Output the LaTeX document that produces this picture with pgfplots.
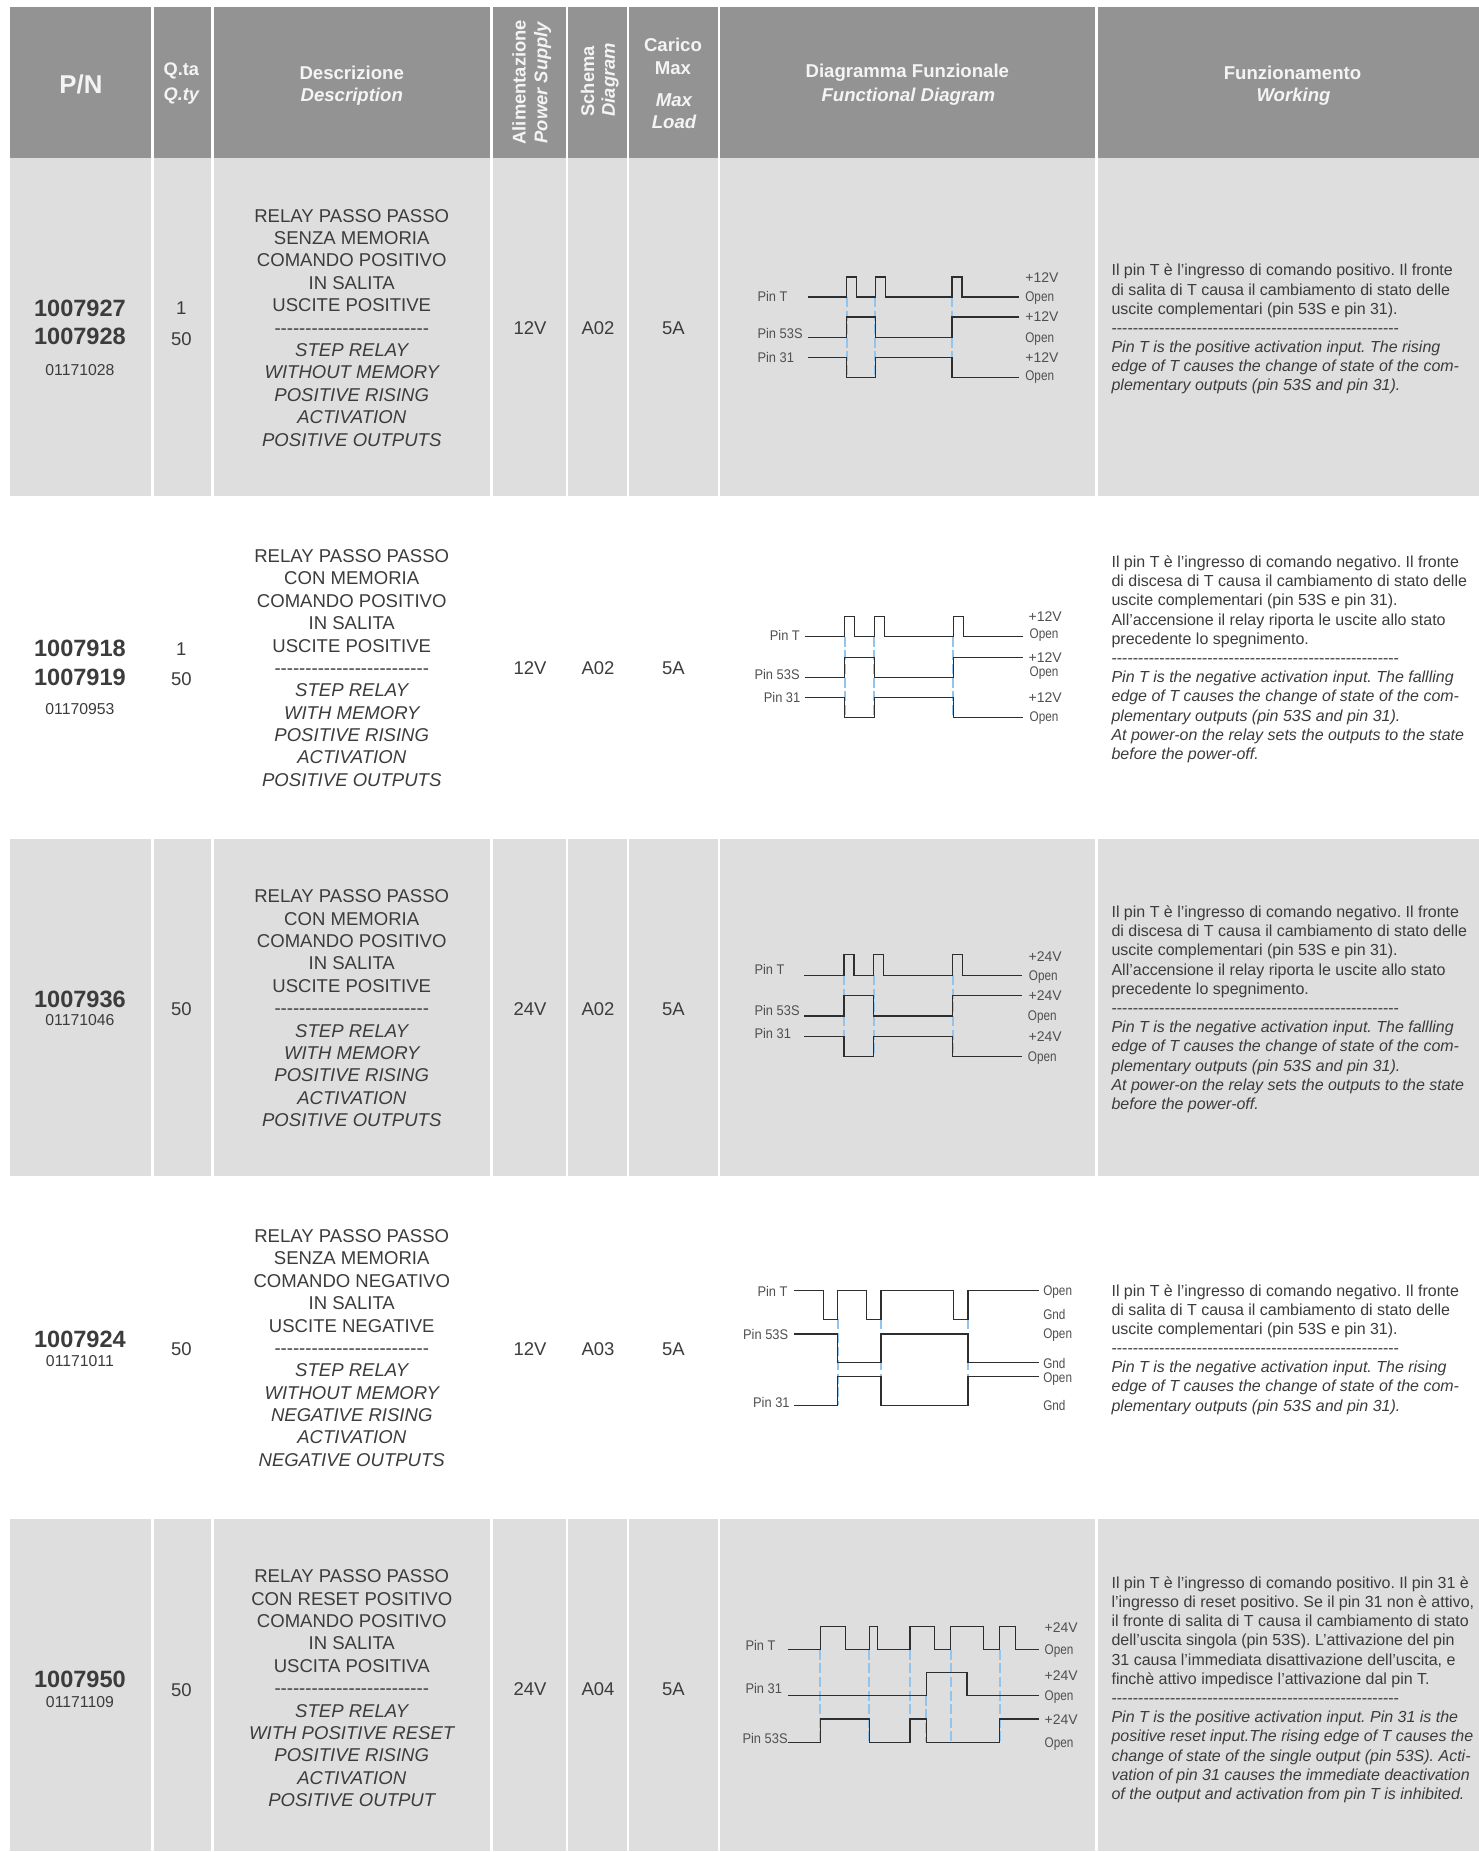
\documentclass[border=0pt]{standalone}
\usepackage{pgfplots}
\pgfplotsset{compat=1.18}
\usepackage{fontspec}
\setmainfont{Liberation Sans}[Ligatures=TeXOff]
\newfontfamily\cond{Liberation Sans}[FakeStretch=0.84,Ligatures=TeXOff]
\newfontfamily\condP{Liberation Sans}[FakeStretch=0.92,Ligatures=TeXOff]
\newfontfamily\condV{Liberation Sans}[FakeStretch=1.0,Ligatures=TeXOff]
\frenchspacing
\definecolor{hdr}{HTML}{939394}
\definecolor{rowg}{HTML}{DEDEDE}
\definecolor{ink}{HTML}{3C3C3C}
\definecolor{sigc}{HTML}{2E2E2E}
\definecolor{blu}{HTML}{92C4EE}
\definecolor{hw}{HTML}{F4F4F4}
\newcommand\fs[2]{\fontsize{#1}{#2}\selectfont}
\newcommand\dl[3]{\node[anchor=west,inner sep=0pt,yshift=-0.5pt,text=ink!90,font=\cond\fs{7}{8}] at (axis cs:#1,#2) {#3};}
\newcommand\dlp[3]{\node[anchor=west,inner sep=0pt,text=ink!90,font=\condP\fs{7}{8}] at (axis cs:#1,#2) {#3};}
\newcommand\dlv[3]{\node[anchor=west,inner sep=0pt,yshift=-0.5pt,text=ink!90,font=\condV\fs{7}{8}] at (axis cs:#1,#2) {#3};}
\newcommand\cc[3]{\node[inner sep=0pt,yshift=-0.5pt,text=ink,font=\fs{9.25}{11}] at (axis cs:#1,#2) {#3};}
\newcommand\hd[5]{\node[inner sep=0pt,text=hw,font=\fs{#4}{11}#5] at (axis cs:#1,#2) {#3};}
\newcommand\hr[4]{\node[anchor=west,rotate=90,inner sep=0pt,text=hw,font=\fs{9.2}{11}#4] at (axis cs:#1,#2) {#3};}
\newcommand\pnb[2]{\node[inner sep=0pt,yshift=-0.5pt,text=ink,font=\bfseries\fs{11.8}{14}] at (axis cs:80,#1) {#2};}
\newcommand\pns[2]{\node[inner sep=0pt,yshift=-0.5pt,text=ink,font=\fs{7.9}{9}] at (axis cs:80,#1) {#2};}
\newcommand\desc[2]{\node[inner sep=0pt,align=center,text=ink,font=\fs{9.28}{11.2}] at (axis cs:352,#1) {#2};}
\newcommand\work[2]{\node[anchor=west,inner sep=0pt,yshift=-0.7pt,align=left,text=ink,font=\fs{8}{9.6}] at (axis cs:1112,#1) {#2};}
\newcommand\dsh{-{}-{}-{}-{}-{}-{}-{}-{}-{}-{}-{}-{}-{}-{}-{}-{}-{}-{}-{}-{}-{}-{}-{}-{}-}
\newcommand\wdsh{-{}-{}-{}-{}-{}-{}-{}-{}-{}-{}-{}-{}-{}-{}-{}-{}-{}-{}-{}-{}-{}-{}-{}-{}-{}-{}-{}-{}-{}-{}-{}-{}-{}-{}-{}-{}-{}-{}-{}-{}-{}-{}-{}-{}-{}-{}-{}-{}-{}-{}-{}-{}-{}-{}}
\pgfplotsset{
  sig/.style={draw=sigc,line width=0.62pt,line join=miter,no markers},
  bl/.style={draw=blu,line width=1pt,dash pattern=on 5pt off 1.8pt,no markers},
  sep/.style={draw=white,line width=1.4pt,no markers},
}
\begin{document}
\begin{tikzpicture}
\begin{axis}[
  width=740pt,height=926pt,scale only axis,
  xmin=0,xmax=1480,ymin=0,ymax=1852,y dir=reverse,
  hide axis,clip=false]
% page ground, so that the picture keeps its white margins
\addplot[fill=white,draw=none] coordinates {(0,0)(1480,0)(1480,1852)(0,1852)} --cycle;
% table bands
\addplot[fill=hdr,draw=none] coordinates {(10,7)(1480,7)(1480,158)(10,158)} --cycle;
\addplot[fill=rowg,draw=none] coordinates {(10,158)(1480,158)(1480,496)(10,496)} --cycle;
\addplot[fill=rowg,draw=none] coordinates {(10,840)(1480,840)(1480,1176.5)(10,1176.5)} --cycle;
\addplot[fill=rowg,draw=none] coordinates {(10,1520)(1480,1520)(1480,1852)(10,1852)} --cycle;
% column separators
\addplot[sep] coordinates {(152.5,7)(152.5,1852)};
\addplot[sep] coordinates {(213,7)(213,1852)};
\addplot[sep] coordinates {(492,7)(492,1852)};
\addplot[sep] coordinates {(567.5,7)(567.5,1852)};
\addplot[sep] coordinates {(628.5,7)(628.5,1852)};
\addplot[sep] coordinates {(719.5,7)(719.5,1852)};
\addplot[sep] coordinates {(1097,7)(1097,1852)};
% ---- diagram 1
\addplot[bl] coordinates {(847.3,297.3)(847.3,377.7)};
\addplot[bl] coordinates {(876,297.3)(876,377.7)};
\addplot[bl] coordinates {(952.7,297.3)(952.7,377.7)};
\addplot[sig] coordinates {(808.7,297.3)(847.3,297.3)(847.3,277.3)(857.3,277.3)(857.3,297.3)(876,297.3)(876,277.3)(886,277.3)(886,297.3)(952.7,297.3)(952.7,277.3)(962.7,277.3)(962.7,297.3)(1020,297.3)};
\addplot[sig] coordinates {(808.7,337.7)(847.3,337.7)(847.3,317.3)(876,317.3)(876,337.7)(952.7,337.7)(952.7,317.3)(1020,317.3)};
\addplot[sig] coordinates {(808.7,357.7)(847.3,357.7)(847.3,377.7)(876,377.7)(876,357.7)(952.7,357.7)(952.7,377.7)(1020,377.7)};
% ---- diagram 2
\addplot[bl] coordinates {(845.3,637.3)(845.3,718)};
\addplot[bl] coordinates {(875,637.3)(875,718)};
\addplot[bl] coordinates {(954,637.3)(954,718)};
\addplot[sig] coordinates {(805.3,637.3)(845.3,637.3)(845.3,617.3)(855.3,617.3)(855.3,637.3)(875,637.3)(875,617.3)(885,617.3)(885,637.3)(954,637.3)(954,617.3)(964,617.3)(964,637.3)(1023.7,637.3)};
\addplot[sig] coordinates {(805.3,678)(845.3,678)(845.3,657.7)(875,657.7)(875,678)(954,678)(954,657.7)(1023.7,657.7)};
\addplot[sig] coordinates {(805.3,698)(845.3,698)(845.3,718)(875,718)(875,698)(954,698)(954,718)(1023.7,718)};
% ---- diagram 3
\addplot[bl] coordinates {(844.7,976)(844.7,1057)};
\addplot[bl] coordinates {(874.3,976)(874.3,1057)};
\addplot[bl] coordinates {(953.3,976)(953.3,1057)};
\addplot[sig] coordinates {(805,976)(844.7,976)(844.7,955.3)(854.7,955.3)(854.7,976)(874.3,976)(874.3,955.3)(884.3,955.3)(884.3,976)(953.3,976)(953.3,955.3)(963.3,955.3)(963.3,976)(1023,976)};
\addplot[sig] coordinates {(805,1016.7)(844.7,1016.7)(844.7,996.3)(874.3,996.3)(874.3,1016.7)(953.3,1016.7)(953.3,996.3)(1023,996.3)};
\addplot[sig] coordinates {(805,1037)(844.7,1037)(844.7,1057)(874.3,1057)(874.3,1037)(953.3,1037)(953.3,1057)(1023,1057)};
% ---- diagram 4
\addplot[bl] coordinates {(838.3,1320.3)(838.3,1406.3)};
\addplot[bl] coordinates {(881.7,1320.3)(881.7,1406.3)};
\addplot[bl] coordinates {(968.7,1320.3)(968.7,1406.3)};
\addplot[sig] coordinates {(794.7,1291.7)(824,1291.7)(824,1320.3)(838.3,1320.3)(838.3,1291.7)(867.3,1291.7)(867.3,1320.3)(881.7,1320.3)(881.7,1291.7)(954,1291.7)(954,1320.3)(968.7,1320.3)(968.7,1291.7)(1040,1291.7)};
\addplot[sig] coordinates {(794.7,1335)(838.3,1335)(838.3,1363.7)(881.7,1363.7)(881.7,1335)(968.7,1335)(968.7,1363.7)(1040,1363.7)};
\addplot[sig] coordinates {(794.7,1406.3)(838.3,1406.3)(838.3,1377.7)(881.7,1377.7)(881.7,1406.3)(968.7,1406.3)(968.7,1377.7)(1040,1377.7)};
% ---- diagram 5
\addplot[bl] coordinates {(821,1651)(821,1743.7)};
\addplot[bl] coordinates {(870,1651)(870,1743.7)};
\addplot[bl] coordinates {(910.7,1651)(910.7,1743.7)};
\addplot[bl] coordinates {(927,1697)(927,1743.7)};
\addplot[bl] coordinates {(951.3,1651)(951.3,1743.7)};
\addplot[bl] coordinates {(1000.3,1651)(1000.3,1743.7)};
\addplot[sig] coordinates {(788.3,1651)(821,1651)(821,1627.7)(846,1627.7)(846,1651)(870,1651)(870,1627.7)(878.3,1627.7)(878.3,1651)(910.7,1651)(910.7,1627.7)(935.3,1627.7)(935.3,1651)(951.3,1651)(951.3,1627.7)(984,1627.7)(984,1651)(1000.3,1651)(1000.3,1627.7)(1016.3,1627.7)(1016.3,1651)(1040,1651)};
\addplot[sig] coordinates {(788.3,1697)(927,1697)(927,1673.7)(967.7,1673.7)(967.7,1697)(1040,1697)};
\addplot[sig] coordinates {(788.3,1743.7)(821,1743.7)(821,1720.3)(870,1720.3)(870,1743.7)(910.7,1743.7)(910.7,1720.3)(927,1720.3)(927,1743.7)(1000.3,1743.7)(1000.3,1720.3)(1040,1720.3)};
% ---- header text
\hd{81}{84}{P/N}{12.9}{\bfseries}
\hd{181.5}{71}{Q.ta}{9.1}{\bfseries}
\hd{181.5}{96.5}{Q.ty}{9.1}{\bfseries\itshape}
\hd{352}{73}{Descrizione}{9.3}{\bfseries}
\hd{352}{97}{Description}{9.3}{\bfseries\itshape}
\hr{519.5}{145}{Alimentazione}{\bfseries}
\hr{543}{144}{Power Supply}{\bfseries\itshape}
\hr{588}{117}{Schema}{\bfseries}
\hr{610.5}{117}{Diagram}{\bfseries\itshape}
\hd{673.5}{45}{Carico}{9.3}{\bfseries}
\hd{673.5}{68}{Max}{9.3}{\bfseries}
\hd{674.5}{100}{Max}{9.3}{\bfseries\itshape}
\hd{674.5}{122}{Load}{9.3}{\bfseries\itshape}
\hd{908}{73}{Diagramma Funzionale}{9.3}{\bfseries}
\hd{909}{96.5}{Functional Diagram}{9.3}{\bfseries\itshape}
\hd{1293.5}{73}{Funzionamento}{9.3}{\bfseries}
\hd{1294.5}{96.5}{Working}{9.3}{\bfseries\itshape}
% ---- P/N column
\pnb{308}{1007927}\pnb{336}{1007928}\pns{369}{01171028}
\pnb{648}{1007918}\pnb{677}{1007919}\pns{709}{01170953}
\pnb{999}{1007936}\pns{1020}{01171046}
\pnb{1339}{1007924}\pns{1361}{01171011}
\pnb{1680}{1007950}\pns{1702}{01171109}
% ---- quantity
\cc{181.5}{307}{1}\cc{181.5}{338}{50}
\cc{181.5}{648.5}{1}\cc{181.5}{678.5}{50}
\cc{181.5}{1009}{50}\cc{181.5}{1349}{50}\cc{181.5}{1690}{50}
% ---- supply, scheme, load
\cc{530.5}{327}{12V}\cc{598.5}{327}{A02}\cc{674}{327}{5A}
\cc{530.5}{668}{12V}\cc{598.5}{668}{A02}\cc{674}{668}{5A}
\cc{530.5}{1009}{24V}\cc{598.5}{1009}{A02}\cc{674}{1009}{5A}
\cc{530.5}{1349}{12V}\cc{598.5}{1349}{A03}\cc{674}{1349}{5A}
\cc{530.5}{1689}{24V}\cc{598.5}{1689}{A04}\cc{674}{1689}{5A}
% ---- descriptions
\desc{328}{RELAY PASSO PASSO\\SENZA MEMORIA\\COMANDO POSITIVO\\IN SALITA\\USCITE POSITIVE\\\dsh\\\itshape STEP RELAY\\\itshape WITHOUT MEMORY\\\itshape POSITIVE RISING\\\itshape ACTIVATION\\\itshape POSITIVE OUTPUTS}
\desc{668.5}{RELAY PASSO PASSO\\CON MEMORIA\\COMANDO POSITIVO\\IN SALITA\\USCITE POSITIVE\\\dsh\\\itshape STEP RELAY\\\itshape WITH MEMORY\\\itshape POSITIVE RISING\\\itshape ACTIVATION\\\itshape POSITIVE OUTPUTS}
\desc{1009}{RELAY PASSO PASSO\\CON MEMORIA\\COMANDO POSITIVO\\IN SALITA\\USCITE POSITIVE\\\dsh\\\itshape STEP RELAY\\\itshape WITH MEMORY\\\itshape POSITIVE RISING\\\itshape ACTIVATION\\\itshape POSITIVE OUTPUTS}
\desc{1349}{RELAY PASSO PASSO\\SENZA MEMORIA\\COMANDO NEGATIVO\\IN SALITA\\USCITE NEGATIVE\\\dsh\\\itshape STEP RELAY\\\itshape WITHOUT MEMORY\\\itshape NEGATIVE RISING\\\itshape ACTIVATION\\\itshape NEGATIVE OUTPUTS}
\desc{1689.5}{RELAY PASSO PASSO\\CON RESET POSITIVO\\COMANDO POSITIVO\\IN SALITA\\USCITA POSITIVA\\\dsh\\\itshape STEP RELAY\\\itshape WITH POSITIVE RESET\\\itshape POSITIVE RISING\\\itshape ACTIVATION\\\itshape POSITIVE OUTPUT}
% ---- working
\work{328}{Il pin T è l’ingresso di comando positivo. Il fronte\\di salita di T causa il cambiamento di stato delle\\uscite complementari (pin 53S e pin 31).\\\wdsh\\\itshape Pin T is the positive activation input. The rising\\\itshape edge of T causes the change of state of the com-\\\itshape plementary outputs (pin 53S and pin 31).}
\work{658.4}{Il pin T è l’ingresso di comando negativo. Il fronte\\di discesa di T causa il cambiamento di stato delle\\uscite complementari (pin 53S e pin 31).\\All’accensione il relay riporta le uscite allo stato\\precedente lo spegnimento.\\\wdsh\\\itshape Pin T is the negative activation input. The fallling\\\itshape edge of T causes the change of state of the com-\\\itshape plementary outputs (pin 53S and pin 31).\\\itshape At power-on the relay sets the outputs to the state\\\itshape before the power-off.}
\work{1008.6}{Il pin T è l’ingresso di comando negativo. Il fronte\\di discesa di T causa il cambiamento di stato delle\\uscite complementari (pin 53S e pin 31).\\All’accensione il relay riporta le uscite allo stato\\precedente lo spegnimento.\\\wdsh\\\itshape Pin T is the negative activation input. The fallling\\\itshape edge of T causes the change of state of the com-\\\itshape plementary outputs (pin 53S and pin 31).\\\itshape At power-on the relay sets the outputs to the state\\\itshape before the power-off.}
\work{1349}{Il pin T è l’ingresso di comando negativo. Il fronte\\di salita di T causa il cambiamento di stato delle\\uscite complementari (pin 53S e pin 31).\\\wdsh\\\itshape Pin T is the negative activation input. The rising\\\itshape edge of T causes the change of state of the com-\\\itshape plementary outputs (pin 53S and pin 31).}
\work{1689.5}{Il pin T è l’ingresso di comando positivo. Il pin 31 è\\l’ingresso di reset positivo. Se il pin 31 non è attivo,\\il fronte di salita di T causa il cambiamento di stato\\dell’uscita singola (pin 53S). L’attivazione del pin\\31 causa l’immediata disattivazione dell’uscita, e\\finchè attivo impedisce l’attivazione dal pin T.\\\wdsh\\\itshape Pin T is the positive activation input. Pin 31 is the\\\itshape positive reset input.The rising edge of T causes the\\\itshape change of state of the single output (pin 53S). Acti-\\\itshape vation of pin 31 causes the immediate deactivation\\\itshape of the output and activation from pin T is inhibited.}
% ---- diagram labels
\dlp{757.7}{296.7}{Pin T}\dlp{757.7}{334}{Pin 53S}\dlp{757.7}{358}{Pin 31}
\dlv{1025.7}{276.7}{+12V}\dl{1025.7}{297}{Open}\dlv{1025.7}{316}{+12V}\dl{1025.7}{338}{Open}\dlv{1025.7}{357}{+12V}\dl{1025.7}{376.7}{Open}
\dlp{770}{636}{Pin T}\dlp{754.7}{675}{Pin 53S}\dlp{764}{698}{Pin 31}
\dlv{1029}{616}{+12V}\dl{1030}{635}{Open}\dlv{1029}{657}{+12V}\dl{1030}{673}{Open}\dlv{1029}{697}{+12V}\dl{1030}{718}{Open}
\dlp{754.7}{969.7}{Pin T}\dlp{754.7}{1011.3}{Pin 53S}\dlp{754.7}{1034.7}{Pin 31}
\dlv{1029}{956.7}{+24V}\dl{1029.3}{976.7}{Open}\dlv{1029}{995.3}{+24V}\dl{1028.3}{1017.3}{Open}\dlv{1029}{1036.7}{+24V}\dl{1028.3}{1058}{Open}
\dlp{757.7}{1292}{Pin T}\dlp{743.3}{1335.7}{Pin 53S}\dlp{753.3}{1404}{Pin 31}
\dl{1043.7}{1292}{Open}\dl{1043.7}{1314.7}{Gnd}\dl{1043.7}{1335}{Open}\dl{1043.7}{1363.7}{Gnd}\dl{1043.7}{1379}{Open}\dl{1043.7}{1405.7}{Gnd}
\dlp{745.7}{1646.3}{Pin T}\dlp{745.7}{1690}{Pin 31}\dlp{742.7}{1739.3}{Pin 53S}
\dlv{1045}{1628}{+24V}\dl{1045}{1651}{Open}\dlv{1045}{1675.7}{+24V}\dl{1045}{1697}{Open}\dlv{1045}{1720}{+24V}\dl{1045}{1744}{Open}
\end{axis}
\end{tikzpicture}
\end{document}
